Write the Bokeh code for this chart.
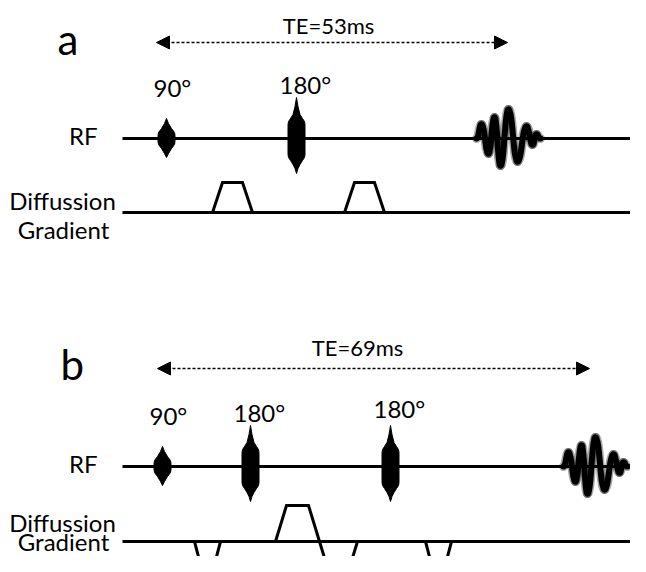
from bokeh.plotting import figure
from bokeh.models import Range1d, Arrow, NormalHead
from bokeh.core.properties import value
from bokeh.embed import file_html
from bokeh.resources import INLINE

# ---- data (diagram units = pixels of the original drawing) ----
panel_labels = ["a", "b"]
te_labels = ["TE=53ms", "TE=69ms"]
te_start = [156, 157]
te_end = [507, 589]
te_y = [42, 368]
te_text_x = [328, 357]
te_text_y = [34, 356]
panel_label_x = [57, 60]
panel_label_y = [55, 380]
rf_y = [138, 466]
grad_y = [212, 541]
rf_label_y = [145, 473]
diff_label_y = [210, 532]
gradlab_label_y = [239, 551]

pulse_panel = [0, 0, 1, 1, 1]
pulse_x = [166, 296, 162, 250, 390]
pulse_kind = ["90°", "180°", "90°", "180°", "180°"]
pulse_label_y = [97, 94, 425, 422, 418]

echo_panel = [0, 1]
echo_x = [478, 565]

grad_panel = [0, 0, 1, 1, 1, 1]
grad_start = [212, 344, 194, 275, 319, 425]
grad_ramp = [10, 10, 6, 11, 11, 6]
grad_flat = [20, 20, 14, 22, 16, 14]
grad_amp = [30, 30, -23, 36, -36, -23]

# ---- shape templates (drawing constants) ----
P90_DX = [0, 2, 5, 8, 8.5, 8.5, 8, 5, 2, 0, -2, -5, -8, -8.5, -8.5, -8, -5, -2]
P90_DY = [-20, -15, -10, -6, -3, 3, 6, 10, 15, 19, 15, 10, 6, 3, -3, -6, -10, -15]
P180_DX = [0, 1.5, 3.5, 6, 8, 8.5, 8.5, 8, 6, 3.5, 1.5, 0, -1.5, -3.5, -6, -8, -8.5, -8.5, -8, -6, -3.5, -1.5]
P180_DY = [-41, -32, -24, -20, -17, -14, 16, 19, 22, 26, 30, 35, 30, 26, 22, 19, 16, -14, -17, -20, -24, -32]
ECHO_DX = [-2, 3, 10, 16, 22, 30, 39, 48, 54, 58, 62]
ECHO_DY = [0, -14, 15, -21, 27, -29, 23, -12, 6, -4, 0]

FONT = value("Lato")

p = figure(width=630, height=556, x_range=Range1d(0, 630), y_range=Range1d(556, 0),
           output_backend="svg", toolbar_location=None, min_border=0,
           x_axis_type=None, y_axis_type=None)
p.grid.visible = False
p.outline_line_color = None
p.background_fill_color = "white"
p.border_fill_color = "white"


def label(x, y, txt, size, align):
    p.text(x=x, y=y, text=txt, text_font=FONT, text_font_size=value(f"{size}px"),
           text_align=align, text_baseline="alphabetic", text_color="black",
           y_offset=-round(0.4 * size))


# baselines
for i in range(2):
    p.line([122, 660], [rf_y[i], rf_y[i]], line_color="black", line_width=3)
    p.line([122, 660], [grad_y[i], grad_y[i]], line_color="black", line_width=3)

# TE arrows
for i in range(2):
    p.add_layout(Arrow(start=NormalHead(size=13, fill_color="black", line_color="black", line_width=1),
                       end=NormalHead(size=13, fill_color="black", line_color="black", line_width=1),
                       x_start=te_start[i], y_start=te_y[i], x_end=te_end[i], y_end=te_y[i],
                       line_dash="3 2", line_width=1.3, line_color="black"))

# texts
label(te_text_x, te_text_y, te_labels, 22, "center")
label(panel_label_x, panel_label_y, panel_labels, 42, "left")
label([97, 97], rf_label_y, ["RF", "RF"], 24, "right")
label([62, 62], diff_label_y, ["Diffussion", "Diffussion"], 24, "center")
label([63, 63], gradlab_label_y, ["Gradient", "Gradient"], 24, "center")

# RF pulses
xs, ys, lx = [], [], []
for k in range(len(pulse_x)):
    yb = rf_y[pulse_panel[k]]
    if pulse_kind[k] == "90°":
        xs.append([pulse_x[k] + d for d in P90_DX]); ys.append([yb + d for d in P90_DY])
        lx.append(pulse_x[k] - 13)
    else:
        xs.append([pulse_x[k] + d for d in P180_DX]); ys.append([yb + d for d in P180_DY])
        lx.append(pulse_x[k] - 17)
p.patches(xs, ys, fill_color="black", line_color="black", line_width=1)
label(lx, pulse_label_y, pulse_kind, 24, "left")

# echoes (smooth bezier segments through lobe extrema)
bx0, by0, bx1, by1, cx0, cy0, cx1, cy1 = [], [], [], [], [], [], [], []
for e in range(len(echo_x)):
    yb = rf_y[echo_panel[e]]
    px = [echo_x[e] + d for d in ECHO_DX]
    py = [yb + d for d in ECHO_DY]
    for j in range(len(px) - 1):
        h = (px[j + 1] - px[j]) * 0.5
        bx0.append(px[j]); by0.append(py[j]); bx1.append(px[j + 1]); by1.append(py[j + 1])
        cx0.append(px[j] + h); cy0.append(py[j]); cx1.append(px[j + 1] - h); cy1.append(py[j + 1])
p.bezier(x0=bx0, y0=by0, x1=bx1, y1=by1, cx0=cx0, cy0=cy0, cx1=cx1, cy1=cy1,
         line_color="black", line_width=9, line_alpha=0.35, line_cap="round")
p.bezier(x0=bx0, y0=by0, x1=bx1, y1=by1, cx0=cx0, cy0=cy0, cx1=cx1, cy1=cy1,
         line_color="black", line_width=6, line_cap="round")

# diffusion gradient lobes
gxs, gys = [], []
for g in range(len(grad_start)):
    yb = grad_y[grad_panel[g]]
    x0 = grad_start[g]
    gxs.append([x0, x0 + grad_ramp[g], x0 + grad_ramp[g] + grad_flat[g], x0 + 2 * grad_ramp[g] + grad_flat[g]])
    gys.append([yb, yb - grad_amp[g], yb - grad_amp[g], yb])
p.multi_line(gxs, gys, line_color="black", line_width=3, line_join="miter")

open("out.html", "w").write(file_html(p, INLINE))
